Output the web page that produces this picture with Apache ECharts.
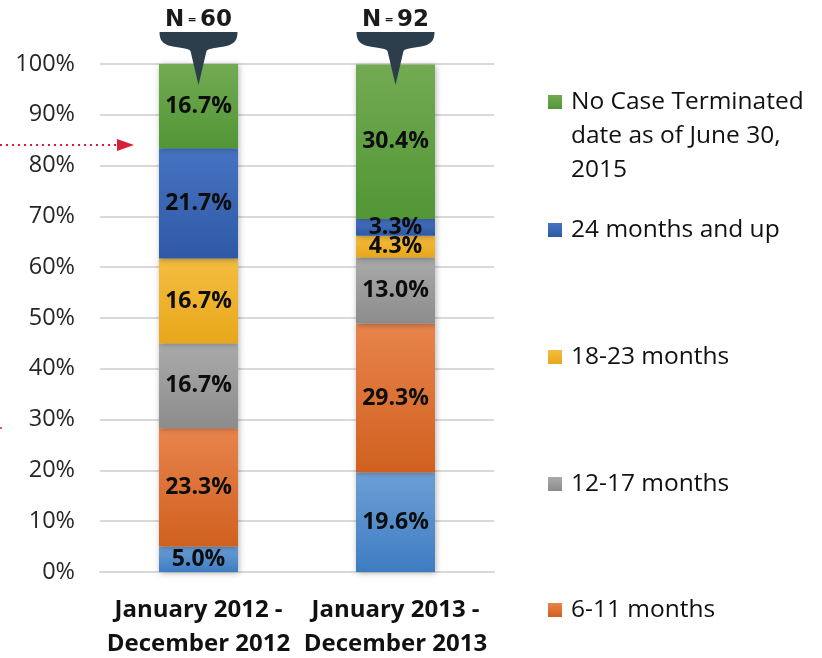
<!DOCTYPE html>
<html>
<head>
<meta charset="utf-8">
<script src="https://cdn.jsdelivr.net/npm/echarts@6/dist/echarts.min.js"></script>
<style>
  html, body { margin: 0; padding: 0; background: #fff; }
  #chart { width: 822px; height: 658px; }
</style>
</head>
<body>
<div id="chart"></div>
<script>
// categories and sample sizes
const categories = ["January 2012 -\nDecember 2012", "January 2013 -\nDecember 2013"];
const sampleSizes = ["60", "92"];

// series values (percent), stacked bottom to top
const lessThan6 = [5.0, 19.6];
const months6to11 = [23.3, 29.3];
const months12to17 = [16.7, 13.0];
const months18to23 = [16.7, 4.3];
const months24up = [21.7, 3.3];
const noCaseTerminated = [16.7, 30.4];

const seriesNames = [
  "Less than 6 months",
  "6-11 months",
  "12-17 months",
  "18-23 months",
  "24 months and up",
  "No Case Terminated\ndate as of June 30,\n2015",
];
const seriesData = [lessThan6, months6to11, months12to17, months18to23, months24up, noCaseTerminated];

// gradient colours (top, bottom) and legend swatch colour
const fills = [
  ["#6c9fd6", "#3e7cc2"],
  ["#e8844c", "#d0601f"],
  ["#aaaaaa", "#8c8c8c"],
  ["#f4bd40", "#e8a71b"],
  ["#4673c2", "#2f59a6"],
  ["#72aa52", "#529636"],
];
const swatch = ["#4a8ad0", "#e0692c", "#999999", "#f0b323", "#3a66b5", "#5e9e3f"];

// speech bubble shape for the N = callouts
const Bubble = echarts.graphic.extendPath(
  "M -39 0 L 39 0 C 39 8 36 12 28 14 C 18 16 10 16 8 19 L 0 53 L -8 19 C -10 16 -18 16 -28 14 C -36 12 -39 8 -39 0 Z",
  {}
);
echarts.graphic.registerShape("bubble", Bubble);

const chart = echarts.init(document.getElementById("chart"));
const font = "'Open Sans', sans-serif";

const series = seriesData.map((data, i) => ({
  name: seriesNames[i],
  type: "bar",
  stack: "total",
  barWidth: 79,
  data: data,
  color: swatch[i],
  itemStyle: {
    color: new echarts.graphic.LinearGradient(0, 0, 0, 1, [
      { offset: 0, color: fills[i][0] },
      { offset: 1, color: fills[i][1] },
    ]),
    shadowBlur: 6,
    shadowColor: "rgba(0,0,0,0.3)",
    shadowOffsetX: 1,
    shadowOffsetY: 1,
  },
  label: {
    show: true,
    position: "inside",
    formatter: (p) => p.value.toFixed(1) + "%",
    fontFamily: font,
    fontWeight: "bold",
    fontSize: 23,
    color: "#0d0d0d",
  },
}));

// legend entries top to bottom: index of series and icon centre y
const legendOrder = [5, 4, 3, 2, 1];
const legendCentres = [102, 230, 357, 484, 610];
const legends = legendOrder.map((si, k) => ({
  orient: "vertical",
  left: 548,
  top: k === 0 ? legendCentres[k] - 85 : legendCentres[k] - 17,
  padding: 0,
  data: [seriesNames[si]],
  selectedMode: false,
  icon: "rect",
  itemWidth: 14,
  itemHeight: 14,
  itemGap: 0,
  // two blank lines first so the swatch sits beside the first line
  formatter: k === 0 ? (name) => "\n\n" + name : "{name}",
  textStyle: {
    fontFamily: font,
    fontSize: 24.5,
    color: "#111",
    lineHeight: 34,
    padding: [0, 0, 0, 4],
  },
}));

chart.setOption({
  animation: false,
  grid: { left: 100, right: 328, top: 64, bottom: 86, outerBoundsMode: "none" },
  legend: legends,
  xAxis: {
    type: "category",
    data: categories,
    axisTick: { show: false },
    axisLine: { lineStyle: { color: "#d9d9d9", width: 2 } },
    axisLabel: {
      interval: 0,
      margin: 21,
      fontFamily: font,
      fontWeight: "bold",
      fontSize: 24,
      lineHeight: 34,
      color: "#111",
    },
  },
  yAxis: {
    type: "value",
    min: 0,
    max: 100,
    interval: 10,
    axisLine: { show: false },
    axisTick: { show: false },
    axisLabel: {
      formatter: "{value}%",
      margin: 25,
      fontFamily: font,
      fontSize: 23.5,
      color: "#262626",
    },
    splitLine: { lineStyle: { color: "#d9d9d9", width: 2 } },
  },
  series: series,
});

// N = callouts above each bar, plus the red arrow on the left
const topY = chart.convertToPixel({ yAxisIndex: 0 }, 100);
const graphics = [];
categories.forEach((c, i) => {
  const cx = chart.convertToPixel({ xAxisIndex: 0 }, i);
  const y0 = topY - 32;
  graphics.push({
    type: "bubble",
    x: cx,
    y: y0,
    style: { fill: "#2c3e4c" },
    z: 10,
  });
  graphics.push({
    type: "text",
    x: cx,
    y: y0 - 12,
    style: {
      text: "{b|N} {s|=} {b|" + sampleSizes[i] + "}",
      align: "center",
      verticalAlign: "middle",
      rich: {
        b: { fontFamily: "'DejaVu Sans', sans-serif", fontWeight: 900, fontSize: 23, fill: "#1a1a1a" },
        s: { fontFamily: "'DejaVu Sans', sans-serif", fontWeight: "bold", fontSize: 11, fill: "#1a1a1a" },
      },
    },
    z: 10,
  });
});
graphics.push({
  type: "line",
  shape: { x1: 0, y1: 145, x2: 118, y2: 145 },
  style: { stroke: "#d71f3a", lineWidth: 2, lineDash: [2, 4] },
});
graphics.push({
  type: "polygon",
  shape: { points: [[117, 139], [134, 145], [117, 151]] },
  style: { fill: "#d71f3a" },
});
graphics.push({
  type: "line",
  shape: { x1: 0, y1: 428, x2: 2, y2: 428 },
  style: { stroke: "#d71f3a", lineWidth: 1.5 },
});
chart.setOption({ graphic: graphics });
</script>
</body>
</html>
